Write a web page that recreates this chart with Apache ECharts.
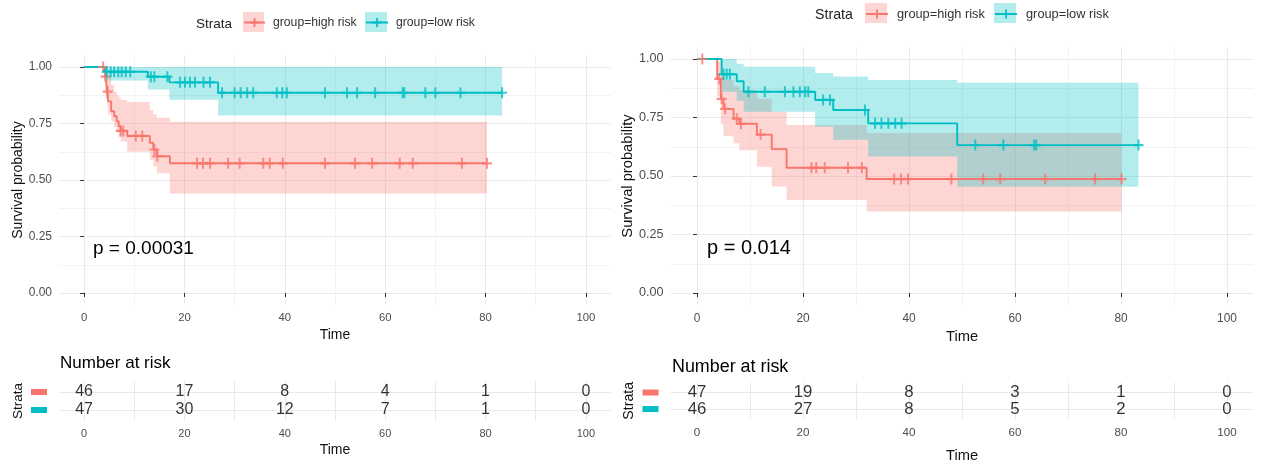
<!DOCTYPE html>
<html>
<head>
<meta charset="utf-8">
<script src="https://cdn.jsdelivr.net/npm/echarts@6/dist/echarts.min.js"></script>
<style>
  html, body { margin: 0; padding: 0; background: #fff; }
  #chart { width: 1262px; height: 464px; }
</style>
</head>
<body>
<div id="chart"></div>
<script>
/* Two Kaplan-Meier panels (high vs low risk) with risk tables underneath. */

// ---- axis breaks ----
const timeTicks = [0, 20, 40, 60, 80, 100];
const timeMinor = [10, 30, 50, 70, 90];
const survTicks = [0, 0.25, 0.5, 0.75, 1];
const survMinor = [0.125, 0.375, 0.625, 0.875];
const strata = ['group=high risk', 'group=low risk'];
const riskTimes = [0, 20, 40, 60, 80, 100];

// ---- left panel (p = 0.00031) ----
const leftPval = 'p = 0.00031';
const leftHighT  = [0, 4.2, 4.4, 4.6, 4.8, 5.4, 6.0, 6.5, 6.9, 7.3, 8.6, 13.1, 13.8, 14.5, 17.1, 80.3];
const leftHighS  = [1, 0.957, 0.935, 0.891, 0.848, 0.804, 0.782, 0.760, 0.738, 0.717, 0.695, 0.665, 0.635, 0.605, 0.574, 0.574];
const leftHighLo = [1, 0.880, 0.860, 0.830, 0.790, 0.760, 0.735, 0.710, 0.690, 0.670, 0.625, 0.590, 0.560, 0.530, 0.440, 0.440];
const leftHighUp = [1, 1.000, 0.990, 0.970, 0.950, 0.920, 0.890, 0.875, 0.865, 0.855, 0.845, 0.810, 0.790, 0.775, 0.758, 0.758];
const leftHighCens = [3.8, 4.3, 4.7, 7.3, 7.8, 10.3, 11.6, 14.0, 14.6, 22.5, 23.7, 25.1, 28.7, 31, 35.7, 37, 39.6,
  48, 54, 57.4, 62.9, 65.5, 75.3, 80.3];

const leftLowT  = [0, 4, 12.7, 17, 26.7, 83.3];
const leftLowS  = [1, 0.979, 0.957, 0.932, 0.886, 0.886];
const leftLowLo = [1, 0.940, 0.900, 0.855, 0.785, 0.785];
const leftLowUp = [1, 1, 1, 1, 1, 1];
const leftLowCens = [4.5, 5.3, 6.0, 6.8, 7.5, 8.3, 9.2, 13.3, 14.0, 16.6, 19.1, 20.1, 21.1, 22.1, 23.8, 25.1,
  27.5, 30, 31.2, 32.5, 33.7, 38.4, 39.5, 40.4, 48, 52.4, 54.4, 58, 63.5, 63.8, 68, 70, 75, 83.3];

const leftRiskHigh = [46, 17, 8, 4, 1, 0];
const leftRiskLow  = [47, 30, 12, 7, 1, 0];

// ---- right panel (p = 0.014) ----
const rightPval = 'p = 0.014';
const rightHighT  = [0, 3.8, 4.5, 5.0, 6.9, 8.0, 11.3, 14.1, 16.9, 32, 80.1];
const rightHighS  = [1, 0.915, 0.830, 0.787, 0.745, 0.723, 0.677, 0.615, 0.535, 0.487, 0.487];
const rightHighLo = [1, 0.840, 0.720, 0.670, 0.640, 0.610, 0.540, 0.455, 0.397, 0.348, 0.348];
const rightHighUp = [1, 0.990, 0.940, 0.910, 0.885, 0.868, 0.830, 0.775, 0.718, 0.684, 0.684];
const rightHighCens = [1.0, 4.2, 4.65, 5.3, 7.5, 8.3, 12.0, 21.6, 22.5, 24.1, 28.5, 31.1, 37.2, 38.5, 39.8,
  48, 54, 57.2, 65.7, 75.1, 80.1];

const rightLowT  = [0, 4.65, 7.5, 8.8, 22.3, 25.7, 32.3, 49.1, 83.3];
const rightLowS  = [1, 0.935, 0.905, 0.860, 0.825, 0.782, 0.725, 0.632, 0.632];
const rightLowLo = [1, 0.860, 0.820, 0.775, 0.710, 0.655, 0.583, 0.454, 0.454];
const rightLowUp = [1, 1.000, 0.980, 0.967, 0.940, 0.925, 0.910, 0.899, 0.899];
const rightLowCens = [5.0, 5.6, 6.2, 9.7, 12.8, 16.6, 18.2, 19.4, 20.4, 21.0, 23.8, 25.1, 31.7, 33.6, 34.8,
  36.1, 37.4, 38.6, 52.5, 57.8, 63.6, 64.0, 83.3];

const rightRiskHigh = [47, 19, 8, 3, 1, 0];
const rightRiskLow  = [46, 27, 8, 5, 2, 0];

// ---- style ----
const FONT = '"Liberation Sans", Arial, sans-serif';
const HI = '#F8766D', LO = '#00BFC4';
const CROSS = 'path://M4,0H6V4H10V6H6V10H4V6H0V4H4Z';
const MAJOR = '#E9E9E9', MINOR = '#F3F3F3';

const survAt = (T, S, t) => {
  let v = S[0];
  T.forEach((x, i) => { if (x <= t) v = S[i]; });
  return v;
};

// step-shaped ribbon between lo and up, as one polygon in data coords
const ribbon = (c, col) => (params, api) => {
  const top = [], bot = [];
  c.T.forEach((t, i) => {
    const next = i < c.T.length - 1 ? c.T[i + 1] : t;
    top.push(api.coord([t, c.up[i]]), api.coord([next, c.up[i]]));
    bot.push(api.coord([t, c.lo[i]]), api.coord([next, c.lo[i]]));
  });
  return { type: 'polygon', shape: { points: top.concat(bot.reverse()) },
    style: { fill: col, opacity: 0.3 } };
};

/* layout of the two panels; sz scales the fonts a bit for the larger right one */
const panels = [
  { main: { left: 59, top: 55.7, width: 552, height: 248.6 },
    table: { left: 59, top: 381.2, width: 552, height: 39.6 }, sz: 1, tabGap: 22,
    hi: { T: leftHighT, S: leftHighS, lo: leftHighLo, up: leftHighUp, cens: leftHighCens, risk: leftRiskHigh },
    lo: { T: leftLowT, S: leftLowS, lo: leftLowLo, up: leftLowUp, cens: leftLowCens, risk: leftRiskLow },
    pval: leftPval, pvalAt: [93, 249], narAt: [60, 363], strataAt: [196, 24.5],
    keys: [[243, 12, 21, 20], [365, 12, 22, 20]], keyPad: 3 },
  { main: { left: 670.5, top: 47.3, width: 583, height: 257.4 },
    table: { left: 670.5, top: 382.6, width: 583, height: 41.8 }, sz: 1.05, tabGap: 29,
    hi: { T: rightHighT, S: rightHighS, lo: rightHighLo, up: rightHighUp, cens: rightHighCens, risk: rightRiskHigh },
    lo: { T: rightLowT, S: rightLowS, lo: rightLowLo, up: rightLowUp, cens: rightLowCens, risk: rightRiskLow },
    pval: rightPval, pvalAt: [707, 248], narAt: [672, 367], strataAt: [815, 15.5],
    keys: [[865, 3, 22, 20], [994, 3, 22, 20]], keyPad: 4 },
];

const grid = [], xAxis = [], yAxis = [], series = [], legend = [], graphic = [];

panels.forEach((p, k) => {
  const gMain = grid.length; grid.push(p.main);
  const gTab = grid.length; grid.push(p.table);
  const f = (n) => Math.round(n * p.sz * 10) / 10;
  const label = { color: '#4D4D4D', fontFamily: FONT, fontSize: f(11.3) };
  const nameStyle = { color: '#111', fontFamily: FONT, fontSize: f(14) };

  // main panel axes (major + minor grid)
  const xMain = xAxis.length;
  xAxis.push({
    type: 'value', gridIndex: gMain, min: -5, max: 105, name: 'Time', nameLocation: 'middle', nameGap: 22.5,
    nameTextStyle: nameStyle, axisLine: { show: false },
    axisTick: { show: true, length: 4, customValues: timeTicks, lineStyle: { color: '#333' } },
    axisLabel: Object.assign({ customValues: timeTicks, margin: 8 }, label),
    splitLine: { show: true, lineStyle: { color: MAJOR, width: 1 } },
  });
  xAxis.push({
    type: 'value', gridIndex: gMain, min: -5, max: 105, position: 'top', axisLine: { show: false },
    axisTick: { show: false, customValues: timeMinor }, axisLabel: { show: false, customValues: timeMinor },
    splitLine: { show: true, lineStyle: { color: MINOR, width: 1 } },
  });
  const yMain = yAxis.length;
  yAxis.push({
    type: 'value', gridIndex: gMain, min: -0.05, max: 1.05, name: 'Survival probability', nameLocation: 'middle',
    nameGap: 32.5, nameTextStyle: nameStyle, axisLine: { show: false },
    axisTick: { show: true, length: 4, customValues: survTicks, lineStyle: { color: '#333' } },
    axisLabel: Object.assign({ customValues: survTicks, margin: 7, formatter: (v) => v.toFixed(2) },
      label, { fontSize: f(12) }),
    splitLine: { show: true, lineStyle: { color: MAJOR, width: 1 } },
  });
  yAxis.push({
    type: 'value', gridIndex: gMain, min: -0.05, max: 1.05, position: 'right', axisLine: { show: false },
    axisTick: { show: false, customValues: survMinor }, axisLabel: { show: false, customValues: survMinor },
    splitLine: { show: true, lineStyle: { color: MINOR, width: 1 } },
  });

  // risk table axes
  const xTab = xAxis.length;
  xAxis.push({
    type: 'value', gridIndex: gTab, min: -5, max: 105, name: 'Time', nameLocation: 'middle', nameGap: p.tabGap,
    nameTextStyle: nameStyle, axisLine: { show: false },
    axisTick: { show: false, customValues: timeTicks },
    axisLabel: Object.assign({ customValues: timeTicks, margin: 8 }, label, { fontSize: f(11) }),
    splitLine: { show: true, lineStyle: { color: MAJOR, width: 1 } },
  });
  xAxis.push({
    type: 'value', gridIndex: gTab, min: -5, max: 105, position: 'top', axisLine: { show: false },
    axisTick: { show: false, customValues: timeMinor }, axisLabel: { show: false, customValues: timeMinor },
    splitLine: { show: true, lineStyle: { color: MAJOR, width: 1 } },
  });
  const yTab = yAxis.length;
  yAxis.push({
    type: 'value', gridIndex: gTab, min: 0.4, max: 2.6, inverse: true, name: 'Strata', nameLocation: 'middle',
    nameGap: 34, nameTextStyle: { color: '#111', fontFamily: FONT, fontSize: f(13.5) }, axisLine: { show: false },
    axisTick: { show: false, customValues: [1, 2] },
    axisLabel: {
      customValues: [1, 2], margin: 12, formatter: (v) => (v === 1 ? '{hi|}' : '{lo|}'),
      rich: { hi: { backgroundColor: HI, width: 16, height: 6 }, lo: { backgroundColor: LO, width: 16, height: 6 } },
    },
    splitLine: { show: true, lineStyle: { color: MAJOR, width: 1 } },
  });

  const bands = [['hi', HI], ['lo', LO]];

  // confidence ribbons
  bands.forEach(([key, col]) => {
    series.push({
      type: 'custom', xAxisIndex: xMain, yAxisIndex: yMain, silent: true, clip: true, z: 1,
      renderItem: ribbon(p[key], col), data: [[0, 1]],
    });
  });

  // survival curves
  bands.forEach(([key, col], j) => {
    const c = p[key];
    series.push({
      name: strata[j], type: 'line', xAxisIndex: xMain, yAxisIndex: yMain, step: 'end',
      symbol: CROSS, symbolSize: 9, showSymbol: false, silent: true,
      lineStyle: { color: col, width: 1.9 }, itemStyle: { color: col },
      data: c.T.map((t, i) => [t, c.S[i]]), z: 3,
    });
  });

  // censor marks
  bands.forEach(([key, col]) => {
    const c = p[key];
    series.push({
      type: 'scatter', xAxisIndex: xMain, yAxisIndex: yMain, symbol: CROSS, symbolSize: [10, 11], silent: true,
      itemStyle: { color: col }, data: c.cens.map((t) => [t, survAt(c.T, c.S, t)]), z: 4,
    });
  });

  // numbers at risk
  bands.forEach(([key], j) => {
    const c = p[key];
    series.push({
      type: 'scatter', xAxisIndex: xTab, yAxisIndex: yTab, symbolSize: 0, silent: true,
      label: { show: true, position: 'inside', color: '#000', fontFamily: FONT, fontSize: f(16),
        formatter: (q) => String(q.value[2]) },
      data: riskTimes.map((t, i) => [t, j + 1, c.risk[i]]), z: 5,
    });
  });

  // legend: ggplot style keys (band-coloured box behind the line + cross)
  p.keys.forEach((b, j) => {
    graphic.push({ type: 'rect', z: 0, shape: { x: b[0], y: b[1], width: b[2], height: b[3] },
      style: { fill: j === 0 ? HI : LO, opacity: 0.3 } });
    legend.push({
      data: [strata[j]], left: b[0], top: b[1] + b[3] / 2 - 5.5, itemWidth: b[2], itemHeight: 11, z: 10,
      selectedMode: false, padding: 0,
      textStyle: { color: '#333', fontFamily: FONT, fontSize: f(12.2), padding: [0, 0, 0, p.keyPad] },
    });
  });
  graphic.push({ type: 'text', x: p.strataAt[0], y: p.strataAt[1], z: 100,
    style: { text: 'Strata', fill: '#222', font: f(13.5) + 'px ' + FONT, verticalAlign: 'middle' } });
  graphic.push({ type: 'text', x: p.pvalAt[0], y: p.pvalAt[1], z: 100,
    style: { text: p.pval, fill: '#000', font: f(19) + 'px ' + FONT, verticalAlign: 'middle' } });
  graphic.push({ type: 'text', x: p.narAt[0], y: p.narAt[1], z: 100,
    style: { text: 'Number at risk', fill: '#000', font: f(17) + 'px ' + FONT, verticalAlign: 'middle' } });
});

const chart = echarts.init(document.getElementById('chart'), null, { renderer: 'canvas' });
chart.setOption({
  animation: false,
  backgroundColor: '#fff',
  textStyle: { fontFamily: FONT },
  grid, xAxis, yAxis, legend, series,
  graphic: { elements: graphic },
});
window.addEventListener('resize', () => chart.resize());
</script>
</body>
</html>
